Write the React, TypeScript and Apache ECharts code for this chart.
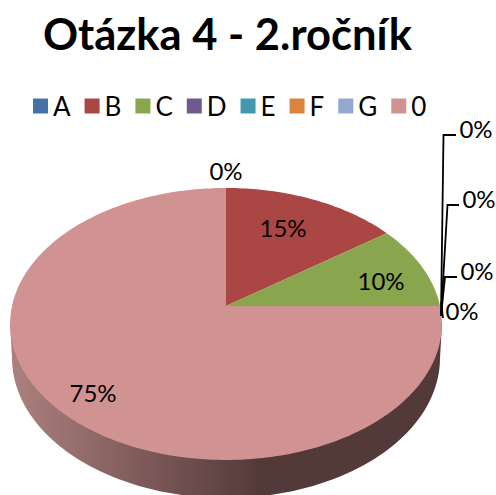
import React, { useEffect, useRef } from "react";
import * as echarts from "echarts";

const titleText = "Otázka 4 - 2.ročník";
const categories = ["A", "B", "C", "D", "E", "F", "G", "0"];
const values = [0, 15, 10, 0, 0, 0, 0, 75];
const colors = ["#4572A7", "#AA4643", "#89A54E", "#71588F", "#4198AF", "#DB843D", "#93A9CF", "#D19392"];

// layout of the value labels: centre of text, then optional leader line
const labelLayout: any[] = [
  { at: [226, 170] },
  { at: [283, 227] },
  { at: [381, 280] },
  { at: [462, 310], leader: [[441, 302], [443, 318]] },
  { at: [477, 270], leader: [[441, 316], [445, 277], [457, 277]] },
  { at: [479, 198], leader: [[441, 316], [447.5, 205], [459, 205]] },
  { at: [476, 128], leader: [[441, 316], [443.5, 135], [456, 135]] },
  { at: [93, 392] },
];

// perspective of the tilted disc
const APEX = [226, 306];
const RX = 214;
const RY = 133.6;
const PERSP = 0.132;
const project = (deg: number) => {
  const a = (deg * Math.PI) / 180;
  const u = Math.sin(a);
  const v = Math.cos(a);
  const w = 1 + PERSP * v;
  return [APEX[0] + (RX * u) / w, APEX[1] - (RY * v) / w];
};
const total = values.reduce((s, v) => s + v, 0);

export default function App() {
  const ref = useRef<HTMLDivElement>(null);
  useEffect(() => {
    const chart = echarts.init(ref.current!, undefined, { renderer: "svg" });
    const font = "Lato";
    const sliceSeries = categories.map((name, i) => ({
      type: "custom",
      name,
      coordinateSystem: "none",
      itemStyle: { color: colors[i] },
      data: [[values[i]]],
      renderItem: (_p: any, api: any) => {
        const value = api.value(0);
        const before = values.slice(0, i).reduce((s, v) => s + v, 0);
        const a0 = (before / total) * 360;
        const a1 = ((before + value) / total) * 360;
        const children: any[] = [];
        if (value > 0) {
          const pts: number[][] = [APEX];
          const n = Math.max(2, Math.ceil(a1 - a0));
          for (let k = 0; k <= n; k++) pts.push(project(a0 + ((a1 - a0) * k) / n));
          children.push({ type: "polygon", shape: { points: pts }, style: { fill: colors[i] } });
        }
        const l = labelLayout[i];
        if (l.leader) {
          children.push({
            type: "polyline",
            z2: 20,
            shape: { points: l.leader },
            style: { stroke: "#000", lineWidth: 1.8, fill: "none" },
          });
        }
        children.push({
          type: "text",
          z2: 30,
          x: l.at[0],
          y: l.at[1],
          style: {
            text: Math.round((value / total) * 100) + "%",
            fill: "#000",
            font: `24px ${font}`,
            align: "center",
            verticalAlign: "middle",
          },
        });
        return { type: "group", children };
      },
    }));
    const wallSeries = {
      type: "custom",
      name: "wall",
      coordinateSystem: "none",
      silent: true,
      data: [[total]],
      renderItem: () => {
        const pts: number[][] = [[10, 323]];
        for (let d = 180; d >= 0; d -= 2) {
          const a = (d * Math.PI) / 180;
          pts.push([226 + 214 * Math.cos(a), 358 + 140 * Math.sin(a)]);
        }
        pts.push([442, 323]);
        return {
          type: "polygon",
          shape: { points: pts },
          style: {
            fill: new echarts.graphic.LinearGradient(0, 0, 1, 0, [
              { offset: 0, color: "#AD8180" },
              { offset: 0.3, color: "#7E5B5A" },
              { offset: 0.58, color: "#533A39" },
              { offset: 1, color: "#533A39" },
            ]),
          },
        };
      },
    };
    chart.setOption({
      animation: false,
      title: {
        text: titleText,
        left: 43,
        top: 11,
        padding: 0,
        textStyle: { fontFamily: font, fontWeight: "bold", fontSize: 43.5, color: "#000" },
      },
      legend: {
        data: categories,
        left: 33,
        top: 93,
        padding: 0,
        icon: "rect",
        itemWidth: 15,
        itemHeight: 15,
        itemGap: 14,
        selectedMode: false,
        textStyle: { fontFamily: font, fontSize: 26, color: "#000" },
      },
      series: [wallSeries, ...sliceSeries],
    });
    return () => chart.dispose();
  }, []);
  return <div ref={ref} style={{ position: "absolute", left: 0, top: 0, width: 496, height: 495, background: "#fff" }} />;
}
